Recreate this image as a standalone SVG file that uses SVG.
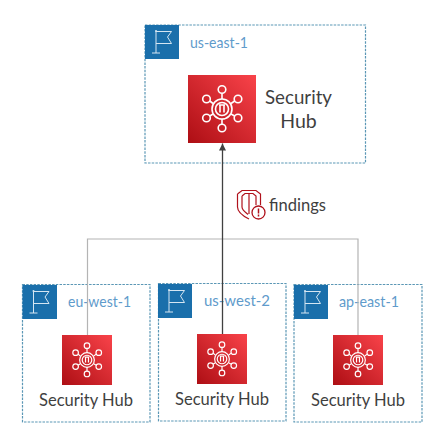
<svg xmlns="http://www.w3.org/2000/svg" width="429" height="431" viewBox="0 0 429 431">
<style>
.region{fill:#fff;stroke:#5b97b5;stroke-width:1.2;stroke-dasharray:2.500 1.200}
.tile{fill:#1a6fab}
.flag{fill:none;stroke:#d5e6f2;stroke-width:1}
.lbl{font-family:Lato,"Liberation Sans",sans-serif;fill:#5f9bcb}
.name{font-family:Lato,"Liberation Sans",sans-serif;fill:#3f3f3f;text-anchor:middle}
.gray{fill:none;stroke:#b4b4b4;stroke-width:1.2}
.dark{fill:none;stroke:#404040;stroke-width:1.3}
.glyph{fill:none;stroke:#fff;stroke-width:1.6}
</style>
<defs>
<linearGradient id="red" x1="0" y1="1" x2="1" y2="0"><stop offset="0" stop-color="#ad0e14"/><stop offset="1" stop-color="#f9434a"/></linearGradient>
<marker id="arrow" markerUnits="userSpaceOnUse" markerWidth="8" markerHeight="8" refX="7" refY="3.500" orient="auto"><path d="M0 0L7 3.500L0 7Z" fill="#404040"/></marker>
<symbol id="flagicon" viewBox="0 0 34 34"><path class="flag" d="M11 6V28M7 28H15M11 6.500H26.500L22.500 12L26.500 18.500H11"/><circle cx="11" cy="6" r="1" fill="#d5e6f2"/></symbol>
<symbol id="hub" viewBox="0 0 68 68"><rect width="68" height="68" fill="url(#red)"/><g class="glyph"><circle cx="34" cy="34" r="10"/><circle cx="34" cy="34" r="6.500"/><path d="M32 30V37.500M36 30V37.500M31 30H37"/><circle cx="34" cy="14.500" r="3.800"/><circle cx="34" cy="53" r="3.800"/><circle cx="18.500" cy="24" r="3.800"/><circle cx="50" cy="24" r="3.800"/><circle cx="18.500" cy="43" r="3.800"/><circle cx="50" cy="43" r="3.800"/><path d="M34 18.300V24M34 44V49.200M21.800 26L25 28.500M46.700 26L43 28.500M21.800 41L25 39M46.700 41L43 39"/></g></symbol>
</defs>
<g id="us-east-1">
<rect class="region" x="145" y="25" width="220.500" height="138"/>
<rect class="tile" x="145" y="25" width="34" height="34"/>
<use href="#flagicon" x="145" y="25" width="34" height="34"/>
<text class="lbl" x="190" y="48" font-size="16" textLength="58" lengthAdjust="spacingAndGlyphs">us-east-1</text>
<use href="#hub" x="188" y="75" width="68" height="68"/>
<text class="name" x="298.500" y="104" font-size="19.500" textLength="67" lengthAdjust="spacingAndGlyphs">Security</text>
<text class="name" x="298.500" y="128" font-size="19.500">Hub</text>
</g>
<g id="findings">
<path d="M237.500 194L242 190.500H256L260.500 194V205M237.500 194V207C237.500 212 243 216 249 219M242 196L245 193.500H253L256 196V205M242 196V207C242 210 245 212 248 214.500M249 193.500V214" fill="none" stroke="#b0121c" stroke-width="1.200"/>
<circle cx="258.500" cy="212.500" r="6.500" fill="#fff" stroke="#b0121c" stroke-width="1.300"/>
<path d="M258.500 208.500V213.500M258.500 214.500V216.500" stroke="#b0121c" stroke-width="1.500"/>
<text x="269" y="210.500" font-family="Lato,Liberation Sans,sans-serif" font-size="17" fill="#3f3f3f" textLength="57" lengthAdjust="spacingAndGlyphs">findings</text>
</g>
<g id="eu-west-1">
<rect class="region" x="22.500" y="284.500" width="127.500" height="137.500"/>
<rect class="tile" x="22.500" y="285" width="34.500" height="34"/>
<use href="#flagicon" x="22.500" y="285" width="34" height="34"/>
<text class="lbl" x="68" y="307" font-size="16" textLength="63" lengthAdjust="spacingAndGlyphs">eu-west-1</text>
<use href="#hub" x="62" y="335" width="50" height="50"/>
<text class="name" x="86" y="405.500" font-size="17.500" textLength="94" lengthAdjust="spacingAndGlyphs">Security Hub</text>
</g>
<g id="us-west-2">
<rect class="region" x="158.500" y="283.500" width="127.500" height="137.500"/>
<rect class="tile" x="158" y="284" width="34" height="34"/>
<use href="#flagicon" x="158" y="284" width="34" height="34"/>
<text class="lbl" x="204" y="306" font-size="16" textLength="66" lengthAdjust="spacingAndGlyphs">us-west-2</text>
<use href="#hub" x="197" y="334" width="50" height="50"/>
<text class="name" x="222" y="404.500" font-size="17.500" textLength="94" lengthAdjust="spacingAndGlyphs">Security Hub</text>
</g>
<g id="ap-east-1">
<rect class="region" x="294" y="284.500" width="128" height="137.500"/>
<rect class="tile" x="294" y="285" width="34" height="34"/>
<use href="#flagicon" x="294" y="285" width="34" height="34"/>
<text class="lbl" x="339" y="307" font-size="16" textLength="60" lengthAdjust="spacingAndGlyphs">ap-east-1</text>
<use href="#hub" x="333" y="335" width="50" height="50"/>
<text class="name" x="358" y="405.500" font-size="17.500" textLength="94" lengthAdjust="spacingAndGlyphs">Security Hub</text>
</g>
<g id="connectors">
<path class="gray" d="M87.500 335V239H358V335"/>
<path class="dark" d="M222.500 334V143.500" marker-end="url(#arrow)"/>
</g>
</svg>
